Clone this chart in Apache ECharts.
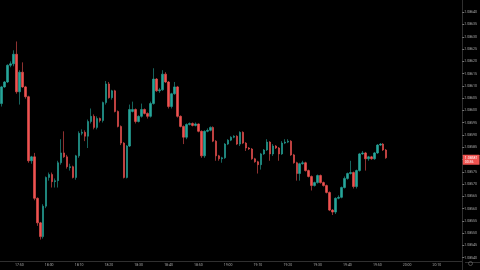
<!DOCTYPE html>
<html><head><meta charset="utf-8">
<script src="https://cdn.jsdelivr.net/npm/echarts@6/dist/echarts.min.js"></script>
<style>html,body{margin:0;padding:0;background:#000;}#c{width:480px;height:270px;}</style>
</head><body><div id="c"></div>
<script>
// 1-minute candles, first candle at 17:44
const startHour = 17, startMinute = 44, slotCount = 155;
const timeTicks = ['17:50','18:00','18:10','18:20','18:30','18:40','18:50','19:00','19:10','19:20','19:30','19:40','19:50','20:00','20:10'];
const priceMin = 1.08535, priceMax = 1.08645, priceStep = 0.00005;
const countdown = '00:36';
// [open, close, low, high]
const candles = [
[1.086028,1.086096,1.086016,1.086100],[1.086096,1.086116,1.086092,1.086120],[1.086116,1.086184,1.086112,1.086188],
[1.086184,1.086190,1.086176,1.086200],[1.086190,1.086229,1.086180,1.086245],[1.086229,1.086076,1.086068,1.086281],
[1.086076,1.086156,1.086024,1.086164],[1.086156,1.086096,1.086092,1.086196],[1.086096,1.086056,1.086048,1.086100],
[1.086056,1.085795,1.085787,1.086060],[1.085795,1.085811,1.085783,1.085815],[1.085811,1.085642,1.085634,1.085827],
[1.085642,1.085542,1.085530,1.085646],[1.085542,1.085486,1.085474,1.085546],[1.085486,1.085610,1.085478,1.085618],
[1.085610,1.085727,1.085602,1.085731],[1.085727,1.085739,1.085714,1.085747],[1.085739,1.085710,1.085686,1.085747],
[1.085710,1.085714,1.085686,1.085723],[1.085714,1.085787,1.085686,1.085795],[1.085787,1.085827,1.085779,1.085883],
[1.085827,1.085811,1.085807,1.085915],[1.085811,1.085771,1.085763,1.085819],[1.085767,1.085771,1.085755,1.085783],
[1.085771,1.085727,1.085723,1.085775],[1.085727,1.085815,1.085718,1.085819],[1.085815,1.085907,1.085807,1.085915],
[1.085907,1.085911,1.085899,1.085923],[1.085911,1.085895,1.085875,1.085919],[1.085895,1.085955,1.085847,1.085963],
[1.085955,1.085976,1.085947,1.086008],[1.085976,1.085931,1.085923,1.085984],[1.085931,1.085967,1.085923,1.085976],
[1.085967,1.085959,1.085951,1.085971],[1.085959,1.086032,1.085951,1.086036],[1.086032,1.086108,1.086024,1.086120],
[1.086108,1.086052,1.086048,1.086116],[1.086052,1.086080,1.086044,1.086084],[1.086080,1.085996,1.085992,1.086084],
[1.085996,1.085935,1.085931,1.086000],[1.085935,1.085867,1.085859,1.085939],[1.085867,1.085727,1.085723,1.085871],
[1.085727,1.085855,1.085723,1.085859],[1.085855,1.086004,1.085851,1.086024],[1.085996,1.086004,1.085992,1.086036],
[1.086004,1.085955,1.085947,1.086008],[1.085955,1.085976,1.085951,1.085980],[1.085976,1.086004,1.085971,1.086028],
[1.086004,1.085988,1.085984,1.086008],[1.085988,1.085976,1.085967,1.085992],[1.085976,1.086028,1.085971,1.086036],
[1.086028,1.086128,1.086024,1.086172],[1.086128,1.086080,1.086076,1.086132],[1.086080,1.086084,1.086072,1.086092],
[1.086084,1.086148,1.086080,1.086164],[1.086148,1.086116,1.086112,1.086156],[1.086116,1.086016,1.086008,1.086120],
[1.086016,1.086068,1.086008,1.086072],[1.086068,1.086096,1.086064,1.086116],[1.086096,1.085976,1.085971,1.086100],
[1.085976,1.085935,1.085931,1.085980],[1.085935,1.085891,1.085863,1.085939],[1.085891,1.085943,1.085883,1.085947],
[1.085943,1.085947,1.085939,1.085951],[1.085947,1.085939,1.085935,1.085951],[1.085939,1.085945,1.085935,1.085951],
[1.085945,1.085915,1.085911,1.085947],[1.085915,1.085815,1.085807,1.085919],[1.085815,1.085915,1.085807,1.085919],
[1.085915,1.085919,1.085911,1.085927],[1.085919,1.085931,1.085915,1.085935],[1.085931,1.085875,1.085871,1.085935],
[1.085875,1.085815,1.085795,1.085879],[1.085815,1.085803,1.085795,1.085819],[1.085803,1.085807,1.085787,1.085811],
[1.085807,1.085863,1.085803,1.085867],[1.085863,1.085879,1.085859,1.085883],[1.085879,1.085891,1.085875,1.085895],
[1.085891,1.085895,1.085887,1.085899],[1.085895,1.085863,1.085859,1.085899],[1.085863,1.085911,1.085855,1.085915],
[1.085911,1.085867,1.085863,1.085915],[1.085867,1.085847,1.085835,1.085871],[1.085847,1.085843,1.085839,1.085851],
[1.085843,1.085803,1.085799,1.085847],[1.085803,1.085791,1.085787,1.085807],[1.085791,1.085779,1.085743,1.085795],
[1.085779,1.085823,1.085759,1.085827],[1.085823,1.085839,1.085819,1.085843],[1.085839,1.085871,1.085835,1.085883],
[1.085871,1.085823,1.085795,1.085875],[1.085823,1.085855,1.085815,1.085863],[1.085855,1.085847,1.085843,1.085859],
[1.085847,1.085823,1.085795,1.085851],[1.085823,1.085867,1.085819,1.085875],[1.085867,1.085871,1.085863,1.085883],
[1.085871,1.085875,1.085867,1.085883],[1.085875,1.085819,1.085815,1.085879],[1.085819,1.085787,1.085783,1.085823],
[1.085787,1.085743,1.085714,1.085791],[1.085743,1.085783,1.085714,1.085787],[1.085783,1.085787,1.085779,1.085795],
[1.085787,1.085755,1.085751,1.085791],[1.085755,1.085731,1.085727,1.085759],[1.085731,1.085694,1.085674,1.085735],
[1.085694,1.085706,1.085690,1.085710],[1.085706,1.085735,1.085702,1.085739],[1.085735,1.085706,1.085702,1.085739],
[1.085706,1.085694,1.085690,1.085710],[1.085694,1.085666,1.085662,1.085698],[1.085666,1.085594,1.085590,1.085670],
[1.085594,1.085586,1.085574,1.085598],[1.085586,1.085642,1.085578,1.085646],[1.085642,1.085646,1.085638,1.085654],
[1.085646,1.085686,1.085642,1.085690],[1.085686,1.085723,1.085682,1.085731],[1.085723,1.085743,1.085718,1.085747],
[1.085743,1.085747,1.085739,1.085795],[1.085747,1.085690,1.085682,1.085751],[1.085690,1.085755,1.085682,1.085759],
[1.085755,1.085823,1.085751,1.085827],[1.085823,1.085827,1.085819,1.085835],[1.085827,1.085803,1.085755,1.085831],
[1.085803,1.085811,1.085795,1.085815],[1.085811,1.085803,1.085799,1.085815],[1.085803,1.085827,1.085799,1.085831],
[1.085827,1.085859,1.085823,1.085863],[1.085859,1.085863,1.085855,1.085867],[1.085863,1.085839,1.085835,1.085867],
[1.085839,1.085807,1.085803,1.085843]
];

const times = [];
for (let i = 0; i < slotCount; i++) {
  const t = startHour * 60 + startMinute + i;
  times.push(String(Math.floor(t / 60)).padStart(2, '0') + ':' + String(t % 60).padStart(2, '0'));
}
const lastClose = candles[candles.length - 1][1];
const UP = '#26a69a', DOWN = '#ef5350';

const chart = echarts.init(document.getElementById('c'), null, {renderer: 'canvas'});
chart.setOption({
  backgroundColor: '#000000',
  animation: false,
  grid: {left: 0, right: 15, top: -3.15, bottom: -0.75, containLabel: false},
  xAxis: {
    type: 'category', data: times, boundaryGap: true, offset: -8.75,
    axisLine: {show: true, lineStyle: {color: '#2f2f2f', width: 1}},
    axisTick: {show: false},
    splitLine: {show: false},
    axisLabel: {
      color: '#a8a8a8', fontSize: 3.5, margin: 2, fontFamily: 'Roboto',
      interval: (i, v) => timeTicks.indexOf(v) >= 0
    },
    axisPointer: {show: false}
  },
  yAxis: {
    type: 'value', position: 'right', min: priceMin, max: priceMax, interval: priceStep, scale: true,
    axisLine: {show: true, lineStyle: {color: '#2f2f2f', width: 1}},
    axisTick: {show: true, length: 2, lineStyle: {color: '#777'}},
    splitLine: {show: false},
    axisLabel: {
      color: '#a8a8a8', fontSize: 3.5, margin: 2, fontFamily: 'Roboto',
      showMinLabel: false, showMaxLabel: false,
      formatter: v => v.toFixed(5)
    },
    axisPointer: {
      show: true, value: lastClose, status: 'show', triggerTooltip: false, type: 'line',
      lineStyle: {color: 'rgba(0,0,0,0)', width: 0},
      label: {
        show: true, margin: 0.5,
        formatter: () => lastClose.toFixed(5) + '\n' + countdown,
        backgroundColor: '#ef5350', color: '#ffffff', fontSize: 3.5, lineHeight: 4,
        padding: [1, 2, 1, 2], fontFamily: 'Roboto', borderRadius: 0.5
      }
    }
  },
  axisPointer: {triggerOn: 'none'},
  series: [{
    type: 'candlestick',
    data: candles,
    barWidth: 2,
    itemStyle: {color: UP, color0: DOWN, borderColor: UP, borderColor0: DOWN, borderWidth: 0.6}
  }],
  graphic: [
    {type: 'line', shape: {x1: 465, y1: 262.5, x2: 480, y2: 262.5}, style: {stroke: '#2f2f2f', lineWidth: 1}},
    {type: 'circle', right: 5, bottom: 2, shape: {r: 2}, style: {fill: 'none', stroke: '#777', lineWidth: 0.6}}
  ]
});
</script>
</body></html>
